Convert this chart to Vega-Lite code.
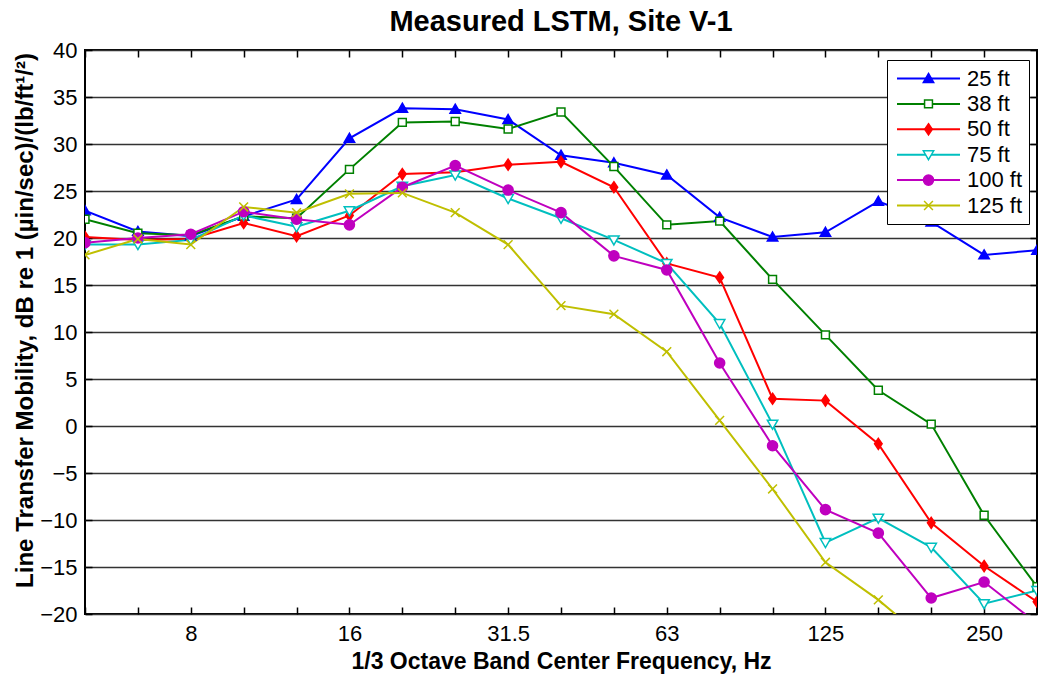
{
  "$schema": "https://vega.github.io/schema/vega-lite/v6.json",
  "width": 952,
  "height": 564,
  "autosize": {"type": "none"},
  "padding": {"left": 85, "top": 50, "right": 1, "bottom": 67},
  "background": "white",
  "title": {"text": "Measured LSTM, Site V-1", "fontSize": 29, "font": "Liberation Sans", "fontWeight": "bold", "anchor": "middle", "offset": 2, "color": "black"},
  "config": {
    "view": {"stroke": "black", "strokeWidth": 2},
    "axis": {"labelFont": "Liberation Sans", "labelFontSize": 22, "labelColor": "black", "titleFont": "Liberation Sans", "titleFontSize": 23, "titleFontWeight": "bold", "titleColor": "black", "tickColor": "black", "tickWidth": 1.5, "domain": false},
    "legend": {"padding": 6, "labelFont": "Liberation Sans", "labelFontSize": 22, "labelColor": "black", "symbolSize": 3969, "clipHeight": 25, "rowPadding": 0.4, "labelOffset": 6, "symbolOffset": 3, "symbolOpacity": 1}
  },
  "data": {"values": [
    {"freq":5,"series":"25 ft","value":22.9},{"freq":6.3,"series":"25 ft","value":20.7},{"freq":8,"series":"25 ft","value":20.2},{"freq":10,"series":"25 ft","value":22.3},{"freq":12.5,"series":"25 ft","value":24.1},{"freq":16,"series":"25 ft","value":30.6},{"freq":20,"series":"25 ft","value":33.8},{"freq":25,"series":"25 ft","value":33.7},{"freq":31.5,"series":"25 ft","value":32.6},{"freq":40,"series":"25 ft","value":28.8},{"freq":50,"series":"25 ft","value":28.0},{"freq":63,"series":"25 ft","value":26.7},{"freq":80,"series":"25 ft","value":22.2},{"freq":100,"series":"25 ft","value":20.1},{"freq":125,"series":"25 ft","value":20.6},{"freq":160,"series":"25 ft","value":23.9},{"freq":200,"series":"25 ft","value":21.7},{"freq":250,"series":"25 ft","value":18.2},{"freq":315,"series":"25 ft","value":18.7},
    {"freq":5,"series":"38 ft","value":22.0},{"freq":6.3,"series":"38 ft","value":20.5},{"freq":8,"series":"38 ft","value":20.3},{"freq":10,"series":"38 ft","value":22.3},{"freq":12.5,"series":"38 ft","value":22.1},{"freq":16,"series":"38 ft","value":27.3},{"freq":20,"series":"38 ft","value":32.3},{"freq":25,"series":"38 ft","value":32.4},{"freq":31.5,"series":"38 ft","value":31.6},{"freq":40,"series":"38 ft","value":33.4},{"freq":50,"series":"38 ft","value":27.6},{"freq":63,"series":"38 ft","value":21.4},{"freq":80,"series":"38 ft","value":21.8},{"freq":100,"series":"38 ft","value":15.6},{"freq":125,"series":"38 ft","value":9.7},{"freq":160,"series":"38 ft","value":3.8},{"freq":200,"series":"38 ft","value":0.2},{"freq":250,"series":"38 ft","value":-9.5},{"freq":315,"series":"38 ft","value":-17.1},
    {"freq":5,"series":"50 ft","value":20.1},{"freq":6.3,"series":"50 ft","value":19.8},{"freq":8,"series":"50 ft","value":19.9},{"freq":10,"series":"50 ft","value":21.6},{"freq":12.5,"series":"50 ft","value":20.2},{"freq":16,"series":"50 ft","value":22.4},{"freq":20,"series":"50 ft","value":26.8},{"freq":25,"series":"50 ft","value":27.0},{"freq":31.5,"series":"50 ft","value":27.8},{"freq":40,"series":"50 ft","value":28.1},{"freq":50,"series":"50 ft","value":25.4},{"freq":63,"series":"50 ft","value":17.3},{"freq":80,"series":"50 ft","value":15.8},{"freq":100,"series":"50 ft","value":2.9},{"freq":125,"series":"50 ft","value":2.7},{"freq":160,"series":"50 ft","value":-1.9},{"freq":200,"series":"50 ft","value":-10.3},{"freq":250,"series":"50 ft","value":-14.9},{"freq":315,"series":"50 ft","value":-18.7},
    {"freq":5,"series":"75 ft","value":19.3},{"freq":6.3,"series":"75 ft","value":19.3},{"freq":8,"series":"75 ft","value":19.8},{"freq":10,"series":"75 ft","value":22.4},{"freq":12.5,"series":"75 ft","value":21.2},{"freq":16,"series":"75 ft","value":22.9},{"freq":20,"series":"75 ft","value":25.5},{"freq":25,"series":"75 ft","value":26.7},{"freq":31.5,"series":"75 ft","value":24.2},{"freq":40,"series":"75 ft","value":22.1},{"freq":50,"series":"75 ft","value":19.8},{"freq":63,"series":"75 ft","value":17.3},{"freq":80,"series":"75 ft","value":10.9},{"freq":100,"series":"75 ft","value":0.2},{"freq":125,"series":"75 ft","value":-12.4},{"freq":160,"series":"75 ft","value":-9.8},{"freq":200,"series":"75 ft","value":-12.9},{"freq":250,"series":"75 ft","value":-18.9},{"freq":315,"series":"75 ft","value":-17.5},
    {"freq":5,"series":"100 ft","value":19.5},{"freq":6.3,"series":"100 ft","value":20.0},{"freq":8,"series":"100 ft","value":20.4},{"freq":10,"series":"100 ft","value":22.8},{"freq":12.5,"series":"100 ft","value":22.0},{"freq":16,"series":"100 ft","value":21.4},{"freq":20,"series":"100 ft","value":25.4},{"freq":25,"series":"100 ft","value":27.7},{"freq":31.5,"series":"100 ft","value":25.1},{"freq":40,"series":"100 ft","value":22.7},{"freq":50,"series":"100 ft","value":18.1},{"freq":63,"series":"100 ft","value":16.6},{"freq":80,"series":"100 ft","value":6.7},{"freq":100,"series":"100 ft","value":-2.1},{"freq":125,"series":"100 ft","value":-8.9},{"freq":160,"series":"100 ft","value":-11.4},{"freq":200,"series":"100 ft","value":-18.3},{"freq":250,"series":"100 ft","value":-16.6},{"freq":315,"series":"100 ft","value":-21.0},
    {"freq":5,"series":"125 ft","value":18.2},{"freq":6.3,"series":"125 ft","value":19.9},{"freq":8,"series":"125 ft","value":19.3},{"freq":10,"series":"125 ft","value":23.3},{"freq":12.5,"series":"125 ft","value":22.7},{"freq":16,"series":"125 ft","value":24.7},{"freq":20,"series":"125 ft","value":24.8},{"freq":25,"series":"125 ft","value":22.7},{"freq":31.5,"series":"125 ft","value":19.3},{"freq":40,"series":"125 ft","value":12.8},{"freq":50,"series":"125 ft","value":11.9},{"freq":63,"series":"125 ft","value":7.9},{"freq":80,"series":"125 ft","value":0.6},{"freq":100,"series":"125 ft","value":-6.7},{"freq":125,"series":"125 ft","value":-14.5},{"freq":160,"series":"125 ft","value":-18.5},{"freq":200,"series":"125 ft","value":-23.2}
  ]},
  "layer": [
    {
      "mark": {"type": "line", "clip": true, "strokeWidth": 2},
      "encoding": {
        "x": {"field": "freq", "type": "ordinal", "scale": {"type": "point", "padding": 0},
              "axis": {"title": "1/3 Octave Band Center Frequency, Hz", "labelAngle": 0, "tickSize": -7, "labelPadding": 16, "titlePadding": 6, "grid": false,
                       "labelExpr": "indexof([8,16,31.5,63,125,250], datum.value) >= 0 ? datum.label : ''"}},
        "y": {"field": "value", "type": "quantitative", "scale": {"domain": [-20, 40], "nice": false, "zero": false},
              "axis": {"title": "Line Transfer Mobility, dB re 1 (µin/sec)/(lb/ft¹/²)", "titleFontSize": 24, "titleY": 270, "values": [-20,-15,-10,-5,0,5,10,15,20,25,30,35,40], "tickSize": -7, "labelPadding": 15, "titlePadding": 2, "grid": true, "gridColor": "#333333", "gridWidth": 1.6}},
        "color": {"field": "series", "type": "nominal", "sort": ["25 ft","38 ft","50 ft","75 ft","100 ft","125 ft"],
                  "scale": {"range": ["#0000ff","#008000","#ff0000","#00bfbf","#bf00bf","#bfbf00"]},
                  "legend": {"title": null, "orient": "none", "legendX": 802, "legendY": 10, "fillColor": "white", "strokeColor": "black", "symbolType": "stroke", "symbolStrokeWidth": 2, "symbolSize": 3969}}
      }
    },
    {
      "mark": {"type": "point", "clip": true, "filled": true, "opacity": 1, "size": 3969, "strokeWidth": 1.5},
      "encoding": {
        "x": {"field": "freq", "type": "ordinal", "axis": {"orient": "top", "labels": false, "title": null, "tickSize": -7, "grid": false}},
        "y": {"field": "value", "type": "quantitative", "axis": {"orient": "right", "labels": false, "title": null, "tickSize": -7, "grid": false, "values": [-20,-15,-10,-5,0,5,10,15,20,25,30,35,40]}},
        "shape": {"field": "series", "type": "nominal",
                  "scale": {"domain": ["25 ft","38 ft","50 ft","75 ft","100 ft","125 ft"],
                            "range": ["M0,-0.16L0.165,0.125L-0.165,0.125Z", "M-0.125,-0.125L0.125,-0.125L0.125,0.125L-0.125,0.125Z", "M0,-0.175L0.12,0L0,0.175L-0.12,0Z", "M0,0.16L0.165,-0.125L-0.165,-0.125Z", "M0.16,0A0.16,0.16,0,1,1,-0.16,0A0.16,0.16,0,1,1,0.16,0Z", "M-0.14,-0.14L0.14,0.14M-0.14,0.14L0.14,-0.14"]},
                  "legend": {"title": null, "orient": "none", "legendX": 802, "legendY": 10, "symbolStrokeWidth": 1.5, "symbolSize": 3969, "labelOpacity": 0}},
        "fill": {"field": "series", "type": "nominal",
                 "legend": {"title": null, "orient": "none", "legendX": 802, "legendY": 10, "symbolStrokeWidth": 1.5, "symbolSize": 3969, "labelOpacity": 0},
                 "scale": {"domain": ["25 ft","38 ft","50 ft","75 ft","100 ft","125 ft"], "range": ["#0000ff","#ffffff","#ff0000","#ffffff","#bf00bf","#ffffff"]}},
        "stroke": {"field": "series", "type": "nominal",
                   "legend": {"title": null, "orient": "none", "legendX": 802, "legendY": 10, "symbolStrokeWidth": 1.5, "symbolSize": 3969, "labelOpacity": 0},
                   "scale": {"domain": ["25 ft","38 ft","50 ft","75 ft","100 ft","125 ft"], "range": ["#0000ff","#008000","#ff0000","#00bfbf","#bf00bf","#bfbf00"]}}
      }
    }
  ],
  "resolve": {"axis": {"x": "independent", "y": "independent"}}
}
